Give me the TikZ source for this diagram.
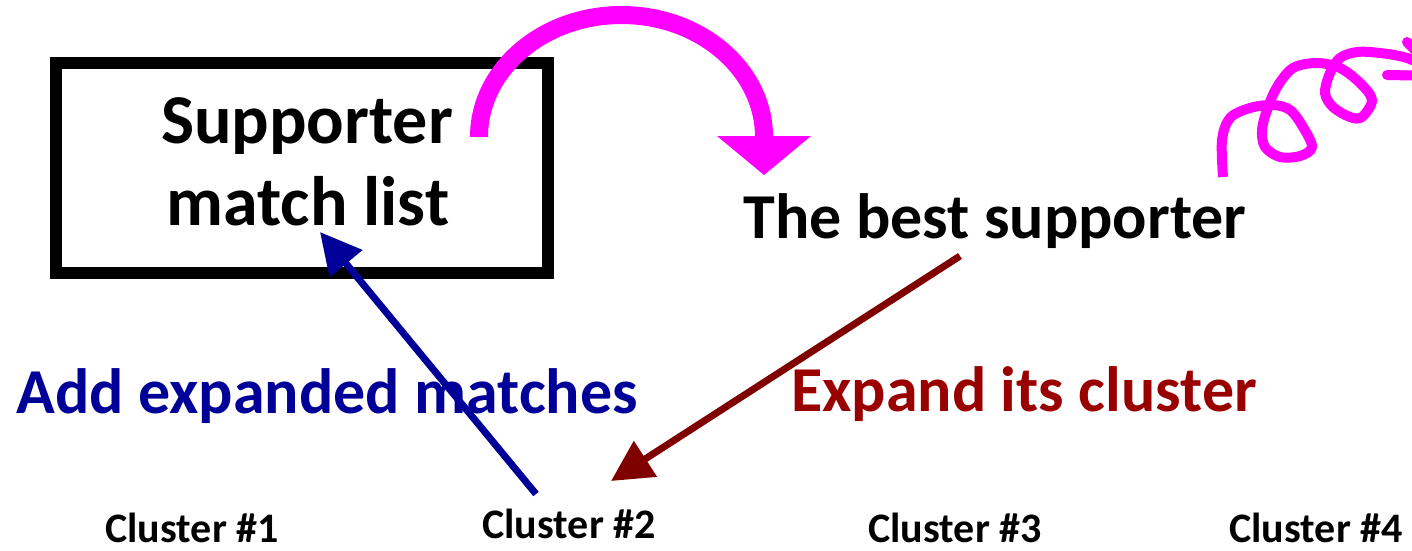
\documentclass[tikz,border=0pt]{standalone}
\usepackage{fontspec}
\setmainfont{Carlito}
\usetikzlibrary{arrows.meta}
\definecolor{mag}{HTML}{FF00FF}
\definecolor{navyc}{HTML}{000099}
\definecolor{darkredc}{HTML}{800000}
\definecolor{textred}{HTML}{990000}
\tikzset{
  lbl/.style={anchor=base, inner sep=0pt, outer sep=0pt},
  bigtxt/.style={lbl, font=\fontsize{70}{74}\selectfont\bfseries},
  midtxt/.style={lbl, font=\fontsize{64}{68}\selectfont\bfseries},
  clustxt/.style={lbl, font=\fontsize{42}{46}\selectfont\bfseries},
  listbox/.style={draw=black, line width=12pt, minimum width=492pt, minimum height=210pt, inner sep=0pt},
  arr/.style={line width=7pt, -{Triangle[length=41pt,width=41pt]}},
}
\begin{document}
\begin{tikzpicture}[x=1pt,y=-1pt]
\useasboundingbox (0,0) rectangle (1412,550);
% box
\node[listbox] (box) at (302,168) {};
\node[bigtxt] (sup) at (307,143) {Supporter};
\node[bigtxt] (ml) at (308,225) {match list};
\node[midtxt] (best) at (995,238) {The best supporter};
\node[midtxt, text=navyc] (add) at (327,413) {Add expanded matches};
\node[midtxt, text=textred] (exp) at (1024,411) {Expand its cluster};
\node[clustxt] (c1) at (192,542) {Cluster \#1};
\node[clustxt] (c2) at (569,538) {Cluster \#2};
\node[clustxt] (c3) at (955,542) {Cluster \#3};
\node[clustxt] (c4) at (1316,542) {Cluster \#4};
% magenta arc
\coordinate (a1) at (479,137);
\coordinate (a2) at (764,137);
\coordinate (hl) at (717,136);
\coordinate (hr) at (811,136);
\coordinate (ht) at (764,175);
\draw[mag, line width=18pt] (a1) arc[start angle=180, end angle=0, x radius=142.5pt, y radius=122pt];
\fill[mag] (hl) -- (hr) -- (ht) -- cycle;
% blue arrow
\coordinate (bs) at (536,494);
\coordinate (bt) at (320,232);
\draw[navyc, arr] (bs) -- (bt);
% red arrow
\coordinate (rs) at (960,256);
\coordinate (rt) at (611,481);
\draw[darkredc, arr] (rs) -- (rt);
% curl
\draw[mag, line width=10pt] plot[smooth, tension=0.55] coordinates {
 (1223,177) (1222,140) (1230,118) (1250,108) (1273,105) (1290,110) (1303,127)
 (1312,147) (1300,156) (1280,157) (1265,147) (1262,130) (1267,110) (1277,87)
 (1293,68) (1317,63) (1340,68) (1360,83) (1372,100) (1362,117) (1350,117)
 (1333,107) (1325,93) (1330,73) (1340,58) (1357,52) (1380,53) (1407,58) (1440,72)};
\coordinate (ct) at (1440,76);
\coordinate (cb1) at (1407,42);
\coordinate (cb2) at (1387,75);
\draw[mag, line width=10pt, line cap=round] (cb1) -- (ct) -- (cb2);
\end{tikzpicture}
\end{document}
